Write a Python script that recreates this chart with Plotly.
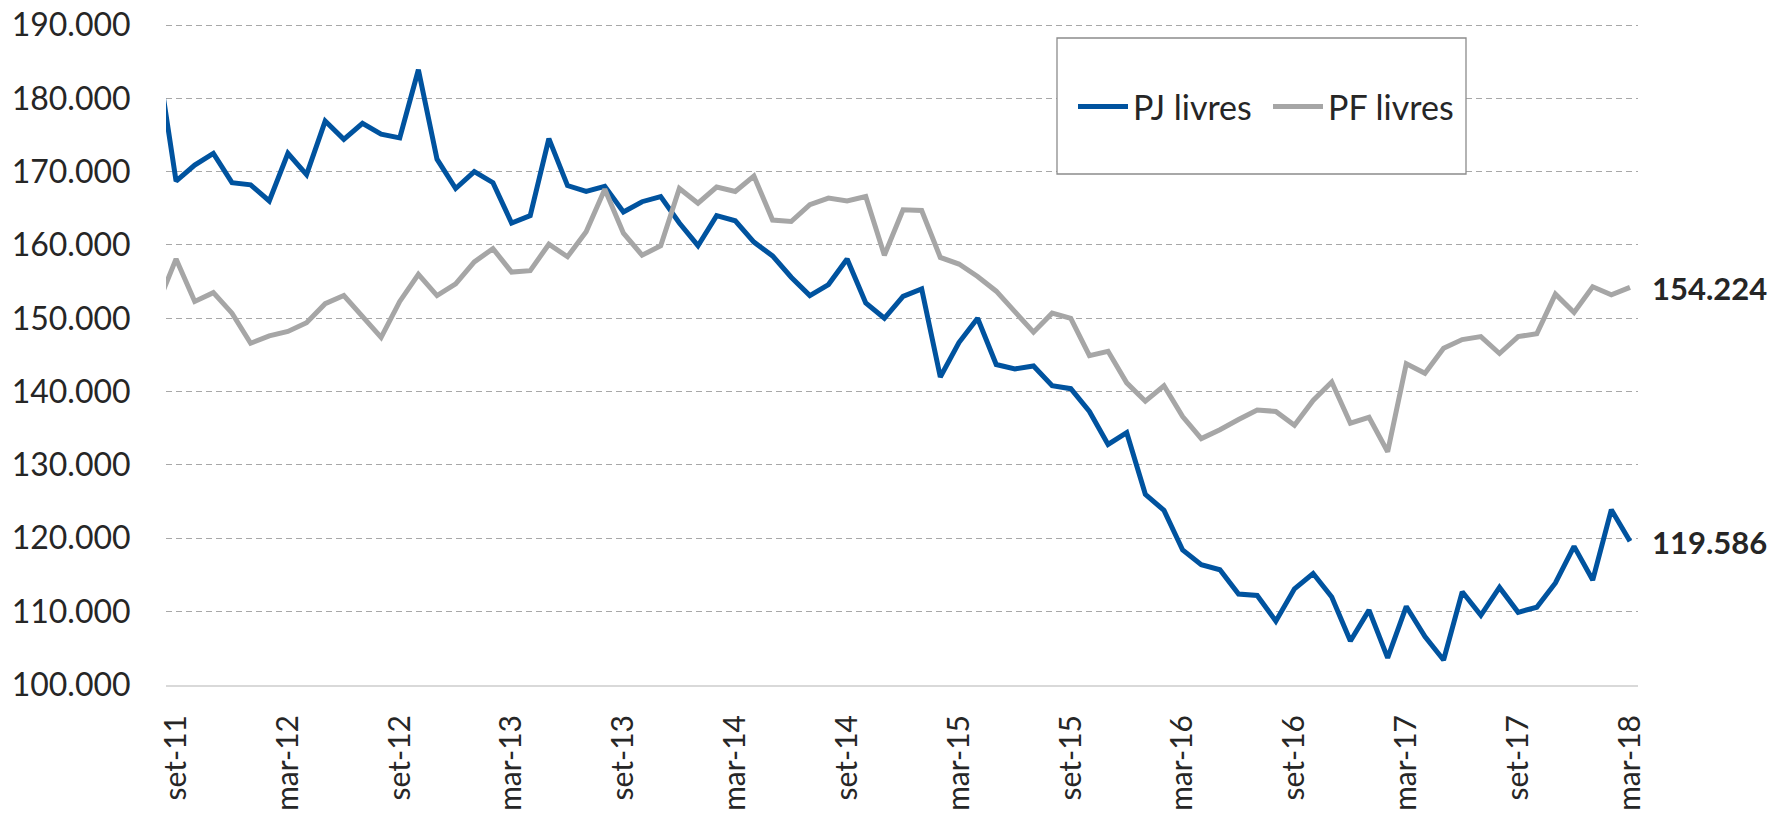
import plotly.graph_objects as go

# ---- data -------------------------------------------------------------
MONTHS_PT = ["jan", "fev", "mar", "abr", "mai", "jun",
             "jul", "ago", "set", "out", "nov", "dez"]

# monthly categories from ago-11 to mar-18 (ago-11 is partly clipped at the left edge)
categories = []
y, m = 2011, 8
while (y, m) <= (2018, 3):
    categories.append(f"{MONTHS_PT[m - 1]}-{str(y)[2:]}")
    m += 1
    if m > 12:
        m, y = 1, y + 1

tick_labels = ["set-11", "mar-12", "set-12", "mar-13", "set-13", "mar-14", "set-14",
               "mar-15", "set-15", "mar-16", "set-16", "mar-17", "set-17", "mar-18"]

pj_livres = [185500, 168700, 170900, 172500, 168500, 168200, 166000, 172500, 169600, 176900,
             174400, 176600, 175100, 174600, 183900, 171700, 167700, 170000, 168500, 163000,
             164000, 174500, 168100, 167300, 168000, 164500, 165900, 166600, 163000, 159900,
             164000, 163300, 160400, 158500, 155600, 153100, 154600, 158100, 152100, 150000,
             153000, 154000, 142000, 146700, 150000, 143700, 143100, 143500, 140800, 140400,
             137300, 132800, 134400, 126000, 123800, 118400, 116400, 115700, 112400, 112200,
             108700, 113100, 115200, 112000, 106000, 110200, 103700, 110700, 106600, 103400,
             112700, 109500, 113300, 109900, 110600, 113900, 118900, 114300, 123900, 119586]

pf_livres = [151800, 158100, 152300, 153500, 150700, 146600, 147600, 148200, 149400, 152000,
             153100, 150200, 147400, 152300, 156000, 153100, 154700, 157700, 159500, 156300,
             156500, 160100, 158400, 161800, 167600, 161600, 158600, 159900, 167700, 165700,
             167900, 167300, 169400, 163400, 163200, 165500, 166400, 166000, 166600, 158600,
             164800, 164700, 158300, 157400, 155700, 153700, 151000, 148100, 150700, 150000,
             144900, 145500, 141200, 138700, 140800, 136600, 133600, 134800, 136200, 137500,
             137300, 135400, 138800, 141300, 135700, 136500, 131800, 143800, 142500, 145900,
             147100, 147500, 145200, 147500, 147900, 153300, 150800, 154300, 153200, 154224]

series_names = ["PJ livres", "PF livres"]
y_ticks = list(range(100000, 190001, 10000))

# ---- style ------------------------------------------------------------
BLUE = "#00539F"
GREY = "#A6A6A6"
TEXT = "#262626"
FONT = "Lato"

W, H = 1772, 820
PX_PER_UNIT = 660.0 / 90000          # vertical scale (100.000 -> 190.000 spans 660 px)
Y_LO, Y_HI = 99990, 190000 + 3 / PX_PER_UNIT  # small headroom so the top gridline is drawn
TOP_PX = 25 - 3                      # plot top in window pixels
BOT_PX = 685
LEFT_PX, RIGHT_PX = 166, 1638
ML, MR, MT, MB = LEFT_PX, W - RIGHT_PX, TOP_PX, H - BOT_PX
PW, PH = W - ML - MR, H - MT - MB


def fmt(v):
    return f"{v:,}".replace(",", ".")


def px_x(p):  # window pixel -> paper fraction
    return (p - ML) / PW


def px_y(p):
    return (BOT_PX - p) / PH


fig = go.Figure()
fig.add_trace(go.Scatter(x=categories, y=pj_livres, name=series_names[0], mode="lines",
                         line=dict(color=BLUE, width=5)))
fig.add_trace(go.Scatter(x=categories, y=pf_livres, name=series_names[1], mode="lines",
                         line=dict(color=GREY, width=5)))

# end-of-series labels
for vals in (pf_livres, pj_livres):
    fig.add_annotation(x=categories[-1], y=vals[-1], text=f"<b>{fmt(vals[-1])}</b>",
                       showarrow=False, xanchor="left", yanchor="middle",
                       xshift=20, yshift=-1,
                       font=dict(family=FONT, size=31, color=TEXT))

# legend frame (white box with grey border)
fig.add_shape(type="rect", xref="paper", yref="paper",
              x0=px_x(1057), x1=px_x(1466), y0=px_y(174), y1=px_y(38),
              line=dict(color="#8C8C8C", width=1.3), fillcolor="white", layer="above")

fig.update_layout(
    width=W, height=H,
    margin=dict(l=ML, r=MR, t=MT, b=MB, pad=0, autoexpand=False),
    paper_bgcolor="white", plot_bgcolor="white",
    separators=",.",
    font=dict(family=FONT, size=32, color=TEXT),
    showlegend=True,
    legend=dict(orientation="h", x=px_x(1073), xanchor="left",
                y=px_y(107), yanchor="middle",
                bgcolor="rgba(0,0,0,0)", borderwidth=0,
                itemwidth=50, entrywidth=130, entrywidthmode="pixels",
                font=dict(family=FONT, size=34, color=TEXT),
                traceorder="normal"),
    xaxis=dict(type="category", range=[0.46, 79.43], automargin=False,
               tickmode="array", tickvals=tick_labels, ticktext=tick_labels,
               tickangle=-90, ticks="outside", ticklen=16, tickcolor="rgba(0,0,0,0)",
               showgrid=False, showline=True, linecolor="#D9D9D9", linewidth=2,
               zeroline=False, tickfont=dict(family=FONT, size=30, color=TEXT)),
    yaxis=dict(range=[Y_LO, Y_HI], tickmode="array", tickvals=y_ticks, automargin=False,
               tickformat=",d", ticks="outside", ticklen=28, tickcolor="rgba(0,0,0,0)",
               ticklabeloverflow="allow",
               showgrid=True, gridcolor="#A8A8A8", gridwidth=1.3, griddash="6px,4px",
               showline=False, zeroline=False,
               tickfont=dict(family=FONT, size=32, color=TEXT)),
)

fig.write_html("out.html", config={"displayModeBar": False},
               post_script="document.body.style.margin='0px';")
